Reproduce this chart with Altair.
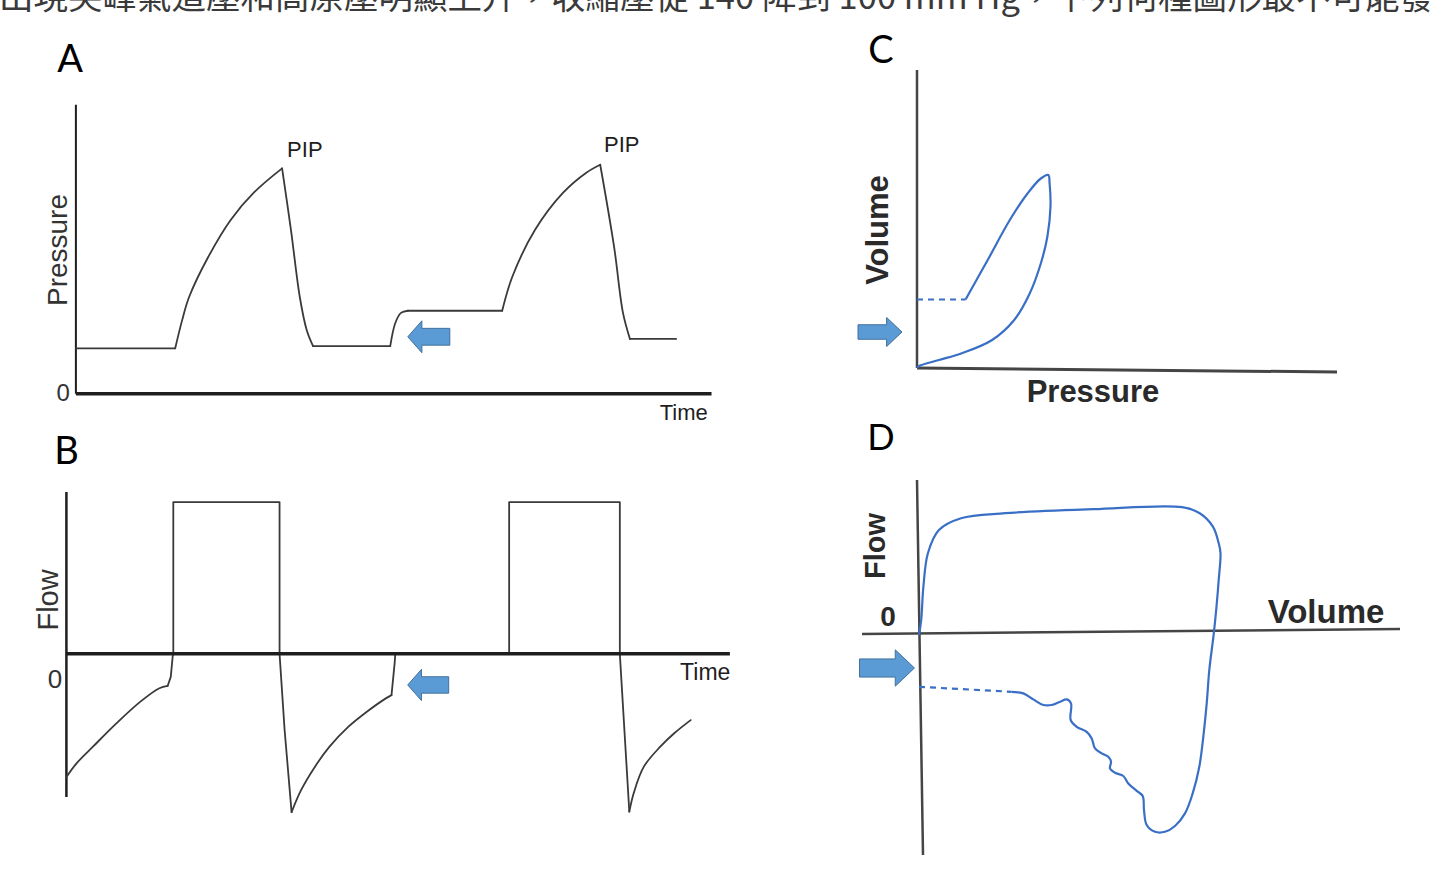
import altair as alt
import pandas as pd

# ---------------- data ----------------
TITLE_TEXT = "出現尖峰氣道壓和高原壓明顯上升，收縮壓從 140 降到 100 mm Hg，下列何種圖形最不可能發生"

# Panel A : pressure vs time
A_TIME = [0.0, 1.57, 1.68, 1.79, 2.09, 2.45, 2.82, 3.26, 3.40, 3.54, 3.65, 3.75, 4.97, 5.05,
          5.14, 5.25, 6.74, 6.90, 7.26, 7.70, 8.07, 8.29, 8.51, 8.65, 8.76, 9.49]
A_PRESSURE = [6.3, 6.3, 10.2, 13.4, 18.9, 24.1, 27.9, 31.2, 22.7, 13.4, 8.8, 6.6, 6.6, 9.8,
              11.2, 11.5, 11.5, 16.2, 22.7, 27.8, 30.6, 31.7, 20.3, 11.2, 7.6, 7.6]
PIP_TIME = [3.62, 8.63]
PIP_PRESSURE = [33.7, 34.4]

# Panel B : flow vs time
B_TIME = [0.0, 0.16, 0.42, 0.79, 1.17, 1.47, 1.60, 1.65, 1.68, 1.69, 1.69, 3.37, 3.37, 3.45,
          3.56, 3.71, 3.93, 4.16, 4.46, 4.75, 5.05, 5.14, 5.19, 5.20, 7.00, 7.00, 8.75, 8.75,
          8.90, 8.97, 9.13, 9.39, 9.61, 9.87]
B_FLOW = [-48.7, -43.3, -36.7, -27.5, -18.9, -13.6, -12.7, -9.1, -1.1, 0, 60, 60, 0, -30.1,
          -62.6, -53.9, -44.6, -36.7, -28.8, -22.9, -17.6, -16.3, -3.6, 0, 0, 60, 60, 0,
          -62.4, -55.0, -44.6, -36.7, -31.4, -26.2]

# Panel C : volume vs pressure loop
C_LOOP_PRESSURE = [4.86, 7.07, 9.28, 11.05, 12.38, 13.13, 13.26, 13.35, 13.04, 12.38, 11.27,
                   9.72, 7.51, 4.42, 2.2, 0.21, 0.0]
C_LOOP_VOLUME = [137, 216, 296, 349, 379, 386, 369, 323, 263, 209, 149, 96, 56, 29, 16, 4, 0]
C_DASH_PRESSURE = [0.0, 4.86]
C_DASH_VOLUME = [137, 137]

# Panel D : flow vs volume loop
D_LOOP_VOLUME = [0, 4.4, 8.8, 17.8, 39.8, 84, 172.4, 349.2, 526, 561.4, 587.8, 599.4, 603,
                 599.4, 595, 589.6, 580.6, 575.4, 568.6, 560.6, 547.4, 532, 512, 492, 472,
                 455.4, 450, 447.4, 435.4, 418.6, 408.6, 392, 382, 384, 378.6, 365.4, 352,
                 345.4, 335.4, 315.4, 303.4, 304, 295.4, 282, 265.4, 248.6, 228.6, 208.6, 185.4]
D_LOOP_FLOW = [-1, 6.5, 23.2, 39.9, 51.5, 57.4, 59.9, 61.9, 62.9, 59.9, 53.2, 44.9, 39.9,
               26.5, 13.2, -0.2, -18.5, -35.2, -51.9, -66.9, -80.2, -90.2, -96.5, -99.4,
               -99.4, -96, -88.5, -81.5, -78.9, -75.2, -71.5, -69.9, -67.7, -64.4, -61.9,
               -60.2, -57.7, -52.7, -49.4, -46.9, -43.5, -35.2, -33.2, -34.4, -36, -36,
               -33.2, -30.2, -29.4]
D_DASH_VOLUME = [0, 185.4]
D_DASH_FLOW = [-26.9, -29.4]

# ---------------- styling ----------------
LEFT_W, RIGHT_W = 740, 690
TITLE_H, A_H, B_H, C_H, D_H = 18, 412, 430, 402, 450

INK = "#1e1e1e"
WAVE = "#3a3a3a"
BLUE = "#3a6fc6"
GREY_AXIS = "#454545"
ARROW_FILL = "#5b9bd5"
ARROW_EDGE = "#41719c"
SANS = "Liberation Sans"
LETTER_FONT = "Lato"

LEFT_ARROW = "M -1 0 L -0.33 -0.76 L -0.33 -0.4 L 1 -0.4 L 1 0.4 L -0.33 0.4 L -0.33 0.76 Z"
RIGHT_ARROW = "M 1 0 L 0.3 -0.66 L 0.3 -0.33 L -1 -0.33 L -1 0.33 L 0.3 0.33 L 0.3 0.66 Z"

# which stretches of the time waveforms are drawn straight and which as smooth curves
A_PIECES = [(0, 1, False), (1, 7, True), (7, 11, True), (11, 12, False), (12, 15, True),
            (15, 16, False), (16, 21, True), (21, 24, True), (24, 25, False)]
B_PIECES = [(0, 6, True), (6, 14, False), (14, 21, True), (21, 28, False), (28, 33, True)]


def scales(xdom, ydom):
    xs = alt.Scale(domain=xdom, nice=False, zero=False)
    ys = alt.Scale(domain=ydom, nice=False, zero=False)
    X = lambda f: alt.X(f, type="quantitative", scale=xs, axis=None)
    Y = lambda f: alt.Y(f, type="quantitative", scale=ys, axis=None)
    return X, Y


def series(xv, yv):
    return pd.DataFrame({"x": xv, "y": yv, "i": list(range(len(xv)))})


def piecewise(xv, yv, pieces):
    rows = []
    for s, (a, b, curved) in enumerate(pieces):
        for k in range(a, b + 1):
            rows.append({"x": xv[k], "y": yv[k], "i": k, "seg": s, "curved": curved})
    return pd.DataFrame(rows)


def wave(df, X, Y, **kw):
    base = alt.Chart(df).encode(x=X("x"), y=Y("y"), order=alt.Order("i:Q"), detail="seg:N")
    return alt.layer(
        base.transform_filter("!datum.curved").mark_line(interpolate="linear", strokeCap="round",
                                                         strokeJoin="round", **kw),
        base.transform_filter("datum.curved").mark_line(interpolate="catmull-rom",
                                                        strokeCap="round", **kw),
    )


def line(df, X, Y, **kw):
    return alt.Chart(df).mark_line(**kw).encode(x=X("x"), y=Y("y"), order=alt.Order("i:Q"))


def rule(x, y, x2, y2, X, Y, **kw):
    df = pd.DataFrame({"x": [x], "y": [y], "x2": [x2], "y2": [y2]})
    return alt.Chart(df).mark_rule(**kw).encode(x=X("x"), y=Y("y"), x2="x2:Q", y2="y2:Q")


def label(xv, yv, texts, X, Y, **kw):
    df = pd.DataFrame({"x": xv, "y": yv, "t": texts})
    return alt.Chart(df).mark_text(align="center", baseline="middle", **kw).encode(
        x=X("x"), y=Y("y"), text="t:N")


def arrow(x, y, path, size, X, Y):
    df = pd.DataFrame({"x": [x], "y": [y]})
    return alt.Chart(df).mark_point(shape=path, size=size, filled=True, fill=ARROW_FILL,
                                    stroke=ARROW_EDGE, strokeWidth=1, opacity=1).encode(
        x=X("x"), y=Y("y"))


# ---------------- title strip (cut off at the top) ----------------
title_df = pd.DataFrame({"t": [TITLE_TEXT]})
title = alt.Chart(title_df).mark_text(
    align="left", baseline="alphabetic", font="Noto Sans CJK TC", fontSize=34.5,
    color="#3a3a3a", clip=True
).encode(x=alt.value(-1), y=alt.value(9), text="t:N").properties(width=1430, height=TITLE_H)

# ---------------- Panel A ----------------
X, Y = scales([-1.2, 10.5], [-5, 52])
panel_a = alt.layer(
    rule(0, 0, 0, 40, X, Y, color=INK, strokeWidth=2),
    rule(0, 0, 10.05, 0, X, Y, color=INK, strokeWidth=3.5),
    wave(piecewise(A_TIME, A_PRESSURE, A_PIECES), X, Y, color=WAVE, strokeWidth=1.8),
    label(PIP_TIME, PIP_PRESSURE, ["PIP", "PIP"], X, Y, font=SANS, fontSize=22, color=INK),
    label([-0.09], [46.0], ["A"], X, Y, font=LETTER_FONT, fontSize=38, color="#000"),
    label([-0.27], [19.9], ["Pressure"], X, Y, font=SANS, fontSize=28, color="#333", angle=270),
    label([-0.2], [0.0], ["0"], X, Y, font=SANS, fontSize=24, color="#333"),
    label([9.61], [-2.7], ["Time"], X, Y, font=SANS, fontSize=22, color=INK),
    arrow(5.58, 7.9, LEFT_ARROW, 1764, X, Y),
).properties(width=LEFT_W, height=A_H)

# ---------------- Panel B ----------------
X, Y = scales([-1.05, 10.65], [-81.5, 88.5])
panel_b = alt.layer(
    rule(0, -56.6, 0, 64.0, X, Y, color=INK, strokeWidth=2.5),
    wave(piecewise(B_TIME, B_FLOW, B_PIECES), X, Y, color=WAVE, strokeWidth=1.8),
    rule(0, 0, 10.49, 0, X, Y, color=INK, strokeWidth=3.5),
    label([0.0], [79.4], ["B"], X, Y, font=LETTER_FONT, fontSize=38, color="#000"),
    label([-0.28], [21.3], ["Flow"], X, Y, font=SANS, fontSize=29, color="#333", angle=270),
    label([-0.18], [-10.4], ["0"], X, Y, font=SANS, fontSize=26, color="#333"),
    label([10.1], [-7.6], ["Time"], X, Y, font=SANS, fontSize=23, color=INK),
    arrow(5.72, -12.3, LEFT_ARROW, 1681, X, Y),
).properties(width=LEFT_W, height=B_H)

# ---------------- Panel C ----------------
X, Y = scales([-17.7, 51.3], [-104, 700])
panel_c = alt.layer(
    rule(0, 0, 0, 596, X, Y, color=GREY_AXIS, strokeWidth=2.5),
    rule(0, 0, 42, -8, X, Y, color=GREY_AXIS, strokeWidth=3),
    line(series(C_LOOP_PRESSURE, C_LOOP_VOLUME), X, Y, color=BLUE, strokeWidth=2.2,
         interpolate="catmull-rom"),
    line(series(C_DASH_PRESSURE, C_DASH_VOLUME), X, Y, color=BLUE, strokeWidth=2.2,
         strokeDash=[6, 5]),
    label([-3.6], [632], ["C"], X, Y, font=LETTER_FONT, fontSize=38, color="#000"),
    label([-3.8], [276], ["Volume"], X, Y, font=SANS, fontSize=31, fontWeight="bold",
          color="#2a2a2a", angle=270),
    label([17.6], [-50], ["Pressure"], X, Y, font=SANS, fontSize=31, fontWeight="bold",
          color="#2a2a2a"),
    arrow(-3.7, 72, RIGHT_ARROW, 1936, X, Y),
).properties(width=RIGHT_W, height=C_H)

# ---------------- Panel D ----------------
X, Y = scales([-358, 1022], [-118.5, 106.5])
panel_d = alt.layer(
    rule(-4, 76.5, 8, -111, X, Y, color=GREY_AXIS, strokeWidth=2.5),
    rule(-114, -0.5, 962, 2, X, Y, color=GREY_AXIS, strokeWidth=2.5),
    line(series(D_LOOP_VOLUME, D_LOOP_FLOW), X, Y, color=BLUE, strokeWidth=2.2,
         interpolate="catmull-rom"),
    line(series(D_DASH_VOLUME, D_DASH_FLOW), X, Y, color=BLUE, strokeWidth=2.2,
         strokeDash=[6, 5]),
    label([-76], [97], ["D"], X, Y, font=LETTER_FONT, fontSize=36, color="#000"),
    label([-86], [43.5], ["Flow"], X, Y, font=SANS, fontSize=29, fontWeight="bold",
          color="#2a2a2a", angle=270),
    label([-62], [7.5], ["0"], X, Y, font=SANS, fontSize=28, fontWeight="bold", color="#2a2a2a"),
    label([814], [10], ["Volume"], X, Y, font=SANS, fontSize=33, fontWeight="bold",
          color="#2a2a2a"),
    arrow(-64, -17.5, RIGHT_ARROW, 3025, X, Y),
).properties(width=RIGHT_W, height=D_H)

left = alt.vconcat(panel_a, panel_b, spacing=0)
right = alt.vconcat(panel_c, panel_d, spacing=0)
body = alt.hconcat(left, right, spacing=0)

chart = alt.vconcat(title, body, spacing=0).properties(
    padding=0, background="white"
).configure_view(stroke=None).configure_concat(spacing=0)

chart.save("out.html", embed_options={"renderer": "svg", "actions": False})
